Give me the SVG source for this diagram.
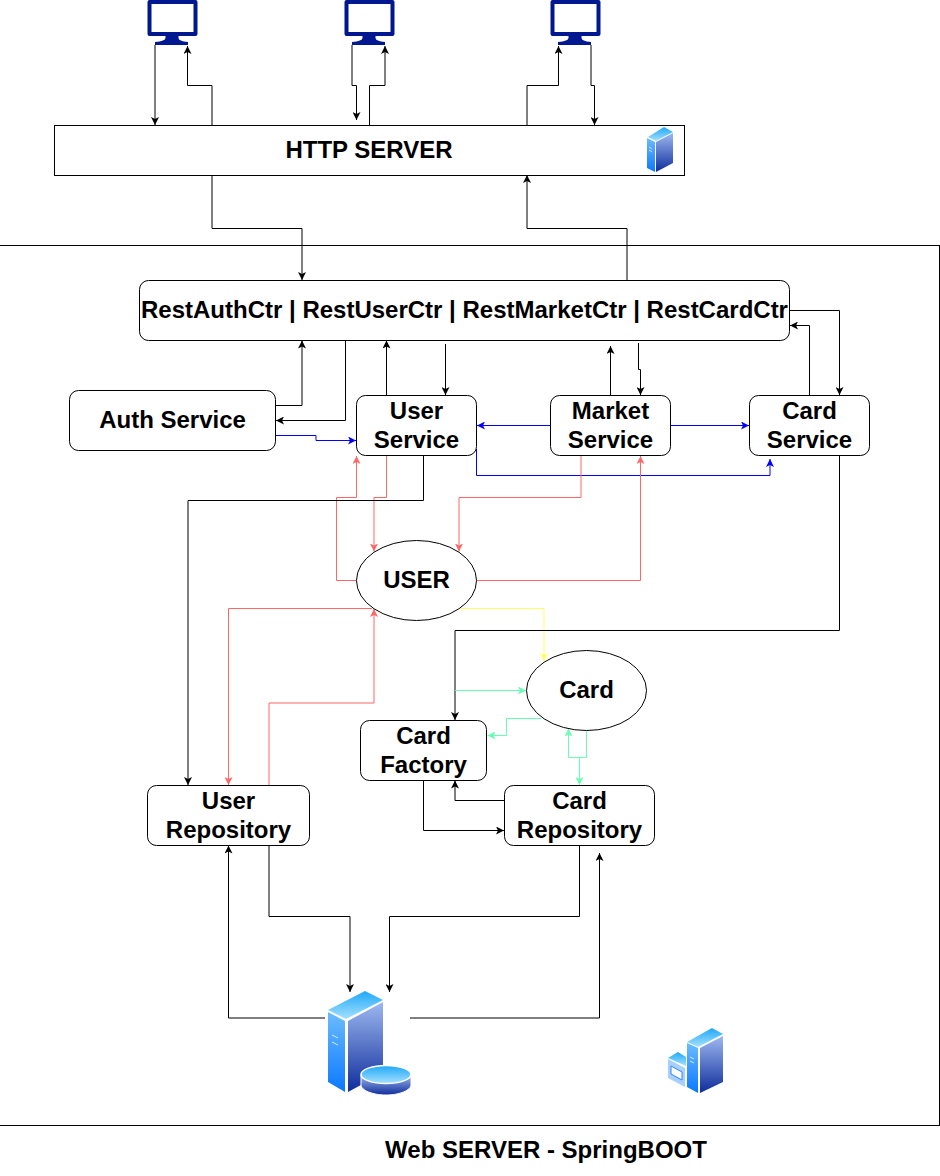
<svg xmlns="http://www.w3.org/2000/svg" width="940" height="1176" viewBox="0 0 940 1176">
<style>
.n{fill:#fff;stroke:#000;stroke-width:1}
.t{font-family:"Liberation Sans",Arial,sans-serif;font-weight:700;font-size:24px;fill:#000;text-anchor:middle}
.c{fill:none;stroke-width:1}
.k{stroke:#000;marker-end:url(#ak)}
.b{stroke:#00f;marker-end:url(#ab)}
.r{stroke:#f66;marker-end:url(#ar)}
.g{stroke:#66ffb3;marker-end:url(#ag)}
.y{stroke:#ff6;marker-end:url(#ay)}
.m{fill:#00188f}
</style>
<defs>
<marker id="ak" markerUnits="userSpaceOnUse" markerWidth="8" markerHeight="8" refX="8" refY="4" orient="auto"><path d="M8,4L0,0L2,4L0,8Z" fill="#000"/></marker>
<marker id="ab" markerUnits="userSpaceOnUse" markerWidth="8" markerHeight="8" refX="8" refY="4" orient="auto"><path d="M8,4L0,0L2,4L0,8Z" fill="#00f"/></marker>
<marker id="ar" markerUnits="userSpaceOnUse" markerWidth="8" markerHeight="8" refX="8" refY="4" orient="auto"><path d="M8,4L0,0L2,4L0,8Z" fill="#f66"/></marker>
<marker id="ag" markerUnits="userSpaceOnUse" markerWidth="8" markerHeight="8" refX="8" refY="4" orient="auto"><path d="M8,4L0,0L2,4L0,8Z" fill="#66ffb3"/></marker>
<marker id="ay" markerUnits="userSpaceOnUse" markerWidth="8" markerHeight="8" refX="8" refY="4" orient="auto"><path d="M8,4L0,0L2,4L0,8Z" fill="#ff6"/></marker>
<linearGradient id="top" x1="0" y1="0" x2="0" y2="1"><stop offset="0" stop-color="#1fa8f7"/><stop offset="1" stop-color="#a5e0ff"/></linearGradient>
<linearGradient id="left" x1="0" y1="0" x2="0" y2="1"><stop offset="0" stop-color="#6cbcff"/><stop offset="1" stop-color="#0a78ff"/></linearGradient>
<linearGradient id="right" x1="0" y1="0" x2="0" y2="1"><stop offset="0" stop-color="#9db8ef"/><stop offset="1" stop-color="#0f2d9c"/></linearGradient>
<g id="mon">
<path class="m" fill-rule="evenodd" d="M2,0H48a2,2 0 0 1 2,2V34a2,2 0 0 1 -2,2H2a2,2 0 0 1 -2,-2V2a2,2 0 0 1 2,-2ZM4,4V32H46V4Z"/>
<path class="m" d="M18,35H31V38Q31,41 40.500,42V45H7.500V42Q18,41 18,38Z"/>
</g>
</defs>
<rect id="web-server" x="-1" y="245.500" width="940.500" height="880" fill="#fff" stroke="#000"/>
<g id="http-server">
<rect class="n" x="54.500" y="125.500" width="630" height="50"/>
<text class="t" x="369" y="158">HTTP SERVER</text>
<g>
<polygon points="648,137 664,127 673,132 656,141" fill="url(#top)"/>
<polygon points="647,138 655,142 655,172 647,168" fill="url(#left)"/>
<polygon points="656,142 673,133 673,163 656,172" fill="url(#right)"/>
<path d="M649,147l3,2M649,150l3,2" stroke="#cfe8ff" fill="none"/>
</g>
</g>
<use id="client-1" href="#mon" x="147.500" y="0"/>
<use id="client-2" href="#mon" x="344.500" y="0"/>
<use id="client-3" href="#mon" x="550.500" y="0"/>
<g id="connectors">
<path class="c k" d="M155,45V125"/>
<path class="c k" d="M212,125V85.500H187.500V46"/>
<path class="c k" d="M352,45V85.500H356.500V120"/>
<path class="c k" d="M369.500,125V85.500H385V46"/>
<path class="c k" d="M527,125V85.500H558.500V46"/>
<path class="c k" d="M591,45V85.500H594.500V125"/>
<path class="c k" d="M212,175V228.500H302V280"/>
<path class="c k" d="M627,280V228.500H527V175"/>
<path class="c k" d="M275.500,405.500H302V340.500"/>
<path class="c k" d="M345.500,340V420.500H276"/>
<path class="c k" d="M386.500,395V340.500"/>
<path class="c k" d="M445.500,344V395"/>
<path class="c k" d="M610.500,395V346"/>
<path class="c k" d="M638.500,343V369.500H640.500V395"/>
<path class="c k" d="M809.500,395V325.500H790"/>
<path class="c k" d="M790,310.500H839.500V395"/>
<path class="c b" d="M276,435.500H316V440.500H356"/>
<path class="c b" d="M550,425.500H477"/>
<path class="c b" d="M670,425.500H749"/>
<path class="c b" d="M476.500,449V475.500H770V459"/>
<path class="c r" d="M356,580.500H336.500V497.500H356.500V456"/>
<path class="c r" d="M386.500,456V497.500H374V551.500"/>
<path class="c r" d="M581,456V497.500H459V551.500"/>
<path class="c r" d="M477,580.500H640.500V456"/>
<path class="c k" d="M423.500,456V500.500H188V785"/>
<path class="c r" d="M269,785V703H374V609"/>
<path class="c r" d="M372,608.500H228.500V785"/>
<path class="c y" d="M460,608.500H544V661"/>
<path class="c k" d="M839.500,456V630.500H455V720"/>
<path class="c g" d="M455,690.500H526"/>
<path class="c g" d="M541,718.500H506.500V735.500H487.500"/>
<path class="c g" d="M586.500,730V757.500H568.500V728.500"/>
<path class="c g" d="M579.500,757.500V785"/>
<path class="c k" d="M504,800.500H455V780.500"/>
<path class="c k" d="M423.500,781V830.500H504"/>
<path class="c k" d="M269,846V916.500H350V992"/>
<path class="c k" d="M579.500,846V916.500H389.500V992"/>
<path class="c k" d="M325,1018H228.500V845.500"/>
<path class="c k" d="M410,1018H599.500V853"/>
</g>
<g id="rest-controllers"><rect class="n" x="139.500" y="280.500" width="650" height="60" rx="9"/><text class="t" x="464.500" y="318">RestAuthCtr | RestUserCtr | RestMarketCtr | RestCardCtr</text></g>
<g id="auth-service"><rect class="n" x="69.500" y="390.500" width="206" height="60" rx="9"/><text class="t" x="172.500" y="428">Auth Service</text></g>
<g id="user-service"><rect class="n" x="356.500" y="395.500" width="120" height="60" rx="9"/><text class="t" x="416.500" y="419">User</text><text class="t" x="416.500" y="448">Service</text></g>
<g id="market-service"><rect class="n" x="550.500" y="395.500" width="120" height="60" rx="9"/><text class="t" x="610.500" y="419">Market</text><text class="t" x="610.500" y="448">Service</text></g>
<g id="card-service"><rect class="n" x="749.500" y="395.500" width="120" height="60" rx="9"/><text class="t" x="809.500" y="419">Card</text><text class="t" x="809.500" y="448">Service</text></g>
<g id="user-entity"><ellipse class="n" cx="416.500" cy="580.500" rx="60" ry="40"/><text class="t" x="416.500" y="588">USER</text></g>
<g id="card-entity"><ellipse class="n" cx="586.500" cy="690.500" rx="60" ry="40"/><text class="t" x="586.500" y="698">Card</text></g>
<g id="card-factory"><rect class="n" x="360.500" y="720.500" width="126" height="60" rx="9"/><text class="t" x="423.500" y="744">Card</text><text class="t" x="423.500" y="773">Factory</text></g>
<g id="card-repository"><rect class="n" x="504.500" y="785.500" width="150" height="60" rx="9"/><text class="t" x="579.500" y="809">Card</text><text class="t" x="579.500" y="838">Repository</text></g>
<g id="user-repository"><rect class="n" x="147.500" y="785.500" width="162" height="60" rx="9"/><text class="t" x="228.500" y="809">User</text><text class="t" x="228.500" y="838">Repository</text></g>
<g id="database">
<polygon points="328,1010 365,991 383,1000 346,1019" fill="url(#top)"/>
<polygon points="328,1012 345,1021 345,1092 328,1082" fill="url(#left)"/>
<polygon points="348,1021 383,1002 383,1073 348,1092" fill="url(#right)"/>
<path d="M332,1035l6,3M332,1042l6,3" stroke="#d5ecff" fill="none"/>
<path d="M361,1075V1085C361,1090 372,1095 386,1095C400,1095 411,1090 411,1085V1075Z" fill="url(#right)" stroke="#fff"/>
<ellipse cx="386" cy="1074.500" rx="25" ry="9" fill="url(#top)" stroke="#fff" stroke-width="1.500"/>
</g>
<g id="server-icon">
<polygon points="668,1058 678,1052 686,1057 686,1066" fill="url(#top)"/>
<polygon points="668,1059 685,1068 685,1087 668,1078" fill="#a8d0ff"/>
<polygon points="671,1066 682,1072 682,1080 671,1074" fill="#fff" stroke="#2a86ff"/>
<polygon points="687,1042 712,1028 723,1034 698,1047" fill="url(#top)"/>
<polygon points="687,1043 698,1048 698,1093 687,1087" fill="url(#left)"/>
<polygon points="700,1048 723,1036 723,1082 700,1093" fill="url(#right)"/>
<path d="M690,1057l4,2M690,1061l4,2" stroke="#d5ecff" fill="none"/>
</g>
<text id="web-server-label" class="t" x="546" y="1158">Web SERVER - SpringBOOT</text>
</svg>
